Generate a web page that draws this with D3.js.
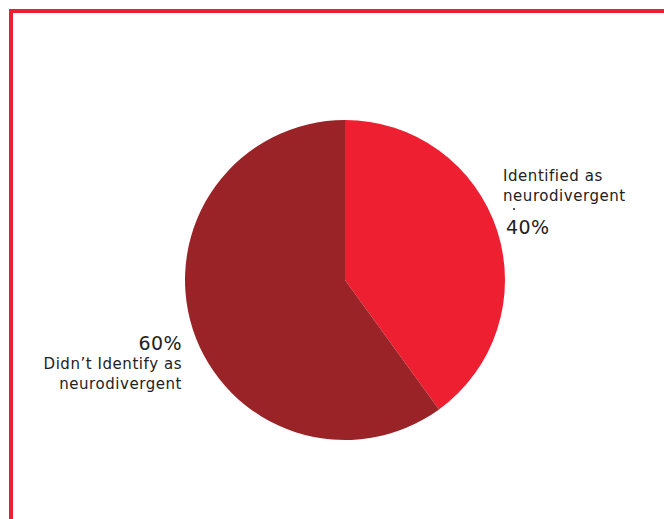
<!DOCTYPE html>
<html>
<head>
<meta charset="utf-8">
<script src="https://cdn.jsdelivr.net/npm/d3@7"></script>
<style>
  body { margin: 0; background: #fff; }
  svg text { font-family: "DejaVu Sans", sans-serif; fill: #222; }
  .lbl { font-size: 15px; letter-spacing: 0.55px; }
  .pct { font-size: 19px; letter-spacing: 0.4px; }
</style>
</head>
<body>
<div id="chart"></div>
<script>
// data
const categories = ['Identified as neurodivergent', "Didn\u2019t Identify as neurodivergent"];
const values = [40, 60];
const colors = ['#EF1F32', '#9A2327'];

const width = 664, height = 519;
const svg = d3.select('#chart').append('svg')
  .attr('width', width)
  .attr('height', height);

// red frame on top and left
svg.append('path')
  .attr('d', `M11,${height} V11 H${width}`)
  .attr('fill', 'none')
  .attr('stroke', '#EE1F33')
  .attr('stroke-width', 4);

const cx = 345, cy = 280, r = 160;
const pie = d3.pie().sort(null)(values);
const arc = d3.arc().innerRadius(0).outerRadius(r);

const g = svg.append('g').attr('transform', `translate(${cx},${cy})`);
g.selectAll('path')
  .data(pie)
  .enter().append('path')
    .attr('d', arc)
    .attr('fill', (d, i) => colors[i]);

// labels
const right = svg.append('g').attr('transform', 'translate(503,0)');
right.append('text').attr('class', 'lbl').attr('y', 181).text('Identified as');
right.append('text').attr('class', 'lbl').attr('y', 201).text('neurodivergent');
right.append('circle').attr('cx', 11).attr('cy', 209).attr('r', 1).attr('fill', '#222');
right.append('text').attr('class', 'pct').attr('x', 3).attr('y', 234).text(values[0] + '%');

const left = svg.append('g').attr('transform', 'translate(182,0)').attr('text-anchor', 'end');
left.append('text').attr('class', 'pct').attr('y', 350).text(values[1] + '%');
left.append('text').attr('class', 'lbl').attr('y', 369).text("Didn\u2019t Identify as");
left.append('text').attr('class', 'lbl').attr('y', 389).text('neurodivergent');
</script>
</body>
</html>
